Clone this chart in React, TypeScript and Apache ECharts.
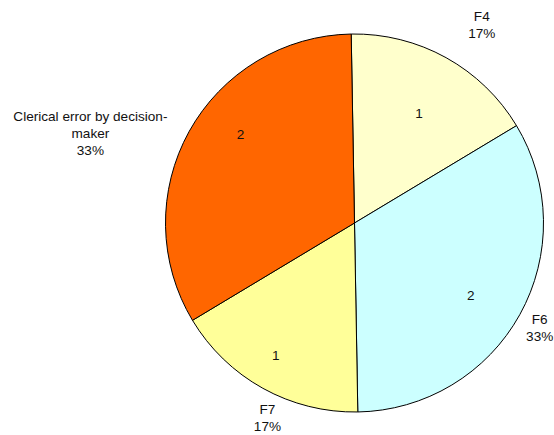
import React, { useEffect, useRef } from "react";
import * as echarts from "echarts";

// Slice names and counts, clockwise from the top
const categories = ["F4", "F6", "F7", "Clerical error by decision-\nmaker"];
const counts = [1, 2, 1, 2];
const sliceColors = ["#FFFFCC", "#CCFFFF", "#FFFF99", "#FF6600"];

// Label placement: angle tweak (deg) from each slice's mid-angle, and distance (px) from the centre
const innerLabelSpots = [
  { dAngle: -1.5, dist: 127 },
  { dAngle: -3, dist: 137 },
  { dAngle: -1.7, dist: 154 },
  { dAngle: -8.7, dist: 144 },
];
const outerLabelSpots = [
  { dAngle: -3.8, dist: 235 },
  { dAngle: -0.6, dist: 213 },
  { dAngle: 5, dist: 214 },
  { dAngle: 10.2, dist: 279 },
];

const CX = 354.5;
const CY = 223;
const R = 189;
const START = 91;

function midAngles(values: number[]): number[] {
  const total = values.reduce((a, b) => a + b, 0);
  const out: number[] = [];
  let acc = 0;
  for (const v of values) {
    const span = (v / total) * 360;
    out.push(START - acc - span / 2);
    acc += span;
  }
  return out;
}

export default function App() {
  const ref = useRef<HTMLDivElement>(null);

  useEffect(() => {
    if (!ref.current) return;
    const chart = echarts.init(ref.current, undefined, { renderer: "svg" });
    const mids = midAngles(counts);
    const place = (spots: { dAngle: number; dist: number }[]) => (p: any) => {
      const i = p.dataIndex;
      const a = ((mids[i] + spots[i].dAngle) * Math.PI) / 180;
      return {
        x: CX + spots[i].dist * Math.cos(a),
        y: CY - spots[i].dist * Math.sin(a),
        align: "center",
        verticalAlign: "middle",
      };
    };
    const data = categories.map((name, i) => ({
      name,
      value: counts[i],
      itemStyle: { color: sliceColors[i] },
    }));
    const font = {
      fontFamily: "'Liberation Sans', Arial, sans-serif",
      fontSize: 13.6,
      color: "#111",
      lineHeight: 17,
    };
    chart.setOption({
      animation: false,
      backgroundColor: "#fff",
      series: [
        {
          type: "pie",
          center: [CX, CY],
          radius: [0, R],
          startAngle: START,
          clockwise: true,
          avoidLabelOverlap: false,
          silent: true,
          itemStyle: { borderColor: "#000", borderWidth: 1 },
          label: { show: true, position: "inside", formatter: "{c}", ...font },
          labelLine: { show: false },
          labelLayout: place(innerLabelSpots),
          data,
        },
        {
          type: "pie",
          center: [CX, CY],
          radius: [0, R],
          startAngle: START,
          clockwise: true,
          avoidLabelOverlap: false,
          silent: true,
          itemStyle: { color: "transparent", borderWidth: 0 },
          label: {
            show: true,
            position: "inside",
            formatter: (p: any) => `${p.name}\n${Math.round(p.percent)}%`,
            ...font,
          },
          labelLine: { show: false },
          labelLayout: place(outerLabelSpots),
          data: categories.map((name, i) => ({ name, value: counts[i] })),
        },
      ],
    });
    return () => chart.dispose();
  }, []);

  return (
    <div
      ref={ref}
      style={{ position: "absolute", left: 0, top: 0, width: 554, height: 435 }}
    />
  );
}
